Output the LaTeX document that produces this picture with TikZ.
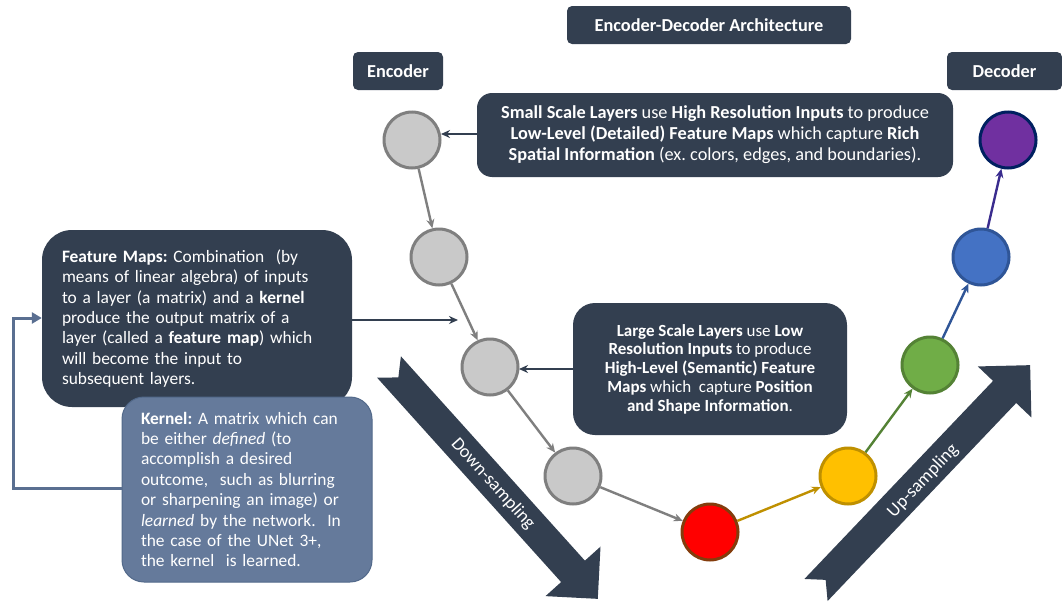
\documentclass[tikz,border=0pt]{standalone}
\usepackage{fontspec}
\setmainfont{Carlito}
\frenchspacing
\usetikzlibrary{arrows.meta,calc}
\definecolor{dk}{HTML}{333F50}
\definecolor{kfill}{HTML}{657A9B}
\definecolor{kline}{HTML}{52698A}
\definecolor{loopc}{HTML}{5A6F91}
\definecolor{gfill}{HTML}{C9C9C9}
\definecolor{gline}{HTML}{7F7F7F}
\definecolor{rline}{HTML}{843C0C}
\definecolor{yfill}{HTML}{FFC000}
\definecolor{yline}{HTML}{BF9000}
\definecolor{grfill}{HTML}{70AD47}
\definecolor{grline}{HTML}{548235}
\definecolor{bfill}{HTML}{4472C4}
\definecolor{bline}{HTML}{2F5597}
\definecolor{pfill}{HTML}{7030A0}
\definecolor{pline}{HTML}{002060}
\definecolor{parrow}{HTML}{3A2C8E}
\tikzset{
  darkbox/.style={fill=dk, draw=none, text=white, inner sep=0pt, align=center},
  txt/.style={font=\fontsize{17.4}{20.4}\selectfont},
  layer/.style={circle, minimum size=56pt, inner sep=0pt, line width=3pt},
  conn/.style={line width=2.4pt, -{Stealth[length=9pt,width=8pt]}},
  looparrow/.style={draw=loopc, line width=3pt, -{Triangle[length=10pt,width=11pt]}},
}
\begin{document}
\begin{tikzpicture}[x=1pt,y=-1pt]
\useasboundingbox (0,0) rectangle (1062,605);
\fill[white] (0,0) rectangle (1062,605);

% big arrows
\begin{scope}[shift={(389,367)}, rotate=-48]
  \fill[dk] (0,-16) -- (275,-16) -- (275,-37) -- (312,0) -- (275,37) -- (275,16) -- (0,16) -- (14,0) -- cycle;
\end{scope}
\node[text=white, font=\fontsize{18.3}{20}\selectfont, rotate=-48] (down) at (493,484) {Down-sampling};
\begin{scope}[shift={(816,590)}, rotate=46.4]
  \fill[dk] (0,-16) -- (273.5,-16) -- (273.5,-37) -- (310.5,0) -- (273.5,37) -- (273.5,16) -- (0,16) -- (14,0) -- cycle;
\end{scope}
\node[text=white, font=\fontsize{18.3}{20}\selectfont, rotate=46.4] (up) at (923,481) {Up-sampling};

% header boxes
\node[darkbox, rounded corners=5pt, minimum width=284pt, minimum height=38pt, font=\fontsize{18.3}{20}\selectfont\bfseries] (title) at (709,25) {Encoder-Decoder Architecture};
\node[darkbox, rounded corners=5pt, minimum width=90pt, minimum height=38pt, font=\fontsize{18.3}{20}\selectfont\bfseries] (enc) at (398,71) {Encoder};
\node[darkbox, rounded corners=5pt, minimum width=115pt, minimum height=38pt, font=\fontsize{18.3}{20}\selectfont\bfseries] (dec) at (1004.5,71) {Decoder};

% explanation boxes
\node[darkbox, rounded corners=15pt, minimum width=476pt, minimum height=84pt, font=\fontsize{18.3}{21}\selectfont] (small) at (715,135)
 {\textbf{Small Scale Layers} use \textbf{High Resolution Inputs} to produce\\
  \textbf{Low-Level (Detailed) Feature Maps} which capture \textbf{Rich}\\
  \textbf{Spatial Information} (ex. colors, edges, and boundaries).};

\node[darkbox, rounded corners=22pt, minimum width=274pt, minimum height=132pt, font=\fontsize{17}{18.7}\selectfont] (large) at (710,369)
 {\textbf{Large Scale Layers} use \textbf{Low}\\
  \textbf{Resolution Inputs} to produce\\
  \textbf{High-Level (Semantic) Feature}\\
  \textbf{Maps} which \ capture \textbf{Position}\\
  \textbf{and Shape Information}.};

\node[darkbox, rounded corners=30pt, minimum width=310pt, minimum height=177pt, txt, align=left, text width=270pt] (fm) at (197,318.5)
 {\textbf{Feature Maps:} Combination \ (by\\
  means of linear algebra) of inputs\\
  to a layer (a matrix) and a \textbf{kernel}\\
  produce the output matrix of a\\
  layer (called a \textbf{feature map}) which\\
  will become the input to\\
  subsequent layers.};

\node[fill=kfill, draw=kline, line width=1pt, text=white, rounded corners=22pt, minimum width=250pt, minimum height=185pt, inner sep=0pt, txt, align=left, text width=212pt] (kern) at (247,489.5)
 {\textbf{Kernel:} A matrix which can\\
  be either \textit{defined} (to\\
  accomplish a desired\\
  outcome, \ such as blurring\\
  or sharpening an image) or\\
  \textit{learned} by the network. \ In\\
  the case of the UNet 3+,\\
  the kernel \ is learned.};

% layers
\node[layer, fill=gfill, draw=gline] (c1) at (412,140) {};
\node[layer, fill=gfill, draw=gline] (c2) at (439,257) {};
\node[layer, fill=gfill, draw=gline] (c3) at (490,367) {};
\node[layer, fill=gfill, draw=gline] (c4) at (573,476) {};
\node[layer, fill=red, draw=rline] (c5) at (710,532) {};
\node[layer, fill=yfill, draw=yline] (c6) at (848,476) {};
\node[layer, fill=grfill, draw=grline] (c7) at (930,365) {};
\node[layer, fill=bfill, draw=bline] (c8) at (981,257) {};
\node[layer, fill=pfill, draw=pline] (c9) at (1008,140) {};

% connectors between layers
\draw[conn, draw=gline, fill=gline] (c1) -- (c2);
\draw[conn, draw=gline, fill=gline] (c2) -- (c3);
\draw[conn, draw=gline, fill=gline] (c3) -- (c4);
\draw[conn, draw=gline, fill=gline] (c4) -- (c5);
\draw[conn, draw=yline, fill=yline] (c5) -- (c6);
\draw[conn, draw=grline, fill=grline] (c6) -- (c7);
\draw[conn, draw=bline, fill=bline] (c7) -- (c8);
\draw[conn, draw=parrow, fill=parrow] (c8) -- (c9);

% box pointers
\coordinate (sp) at (441,134);
\draw[conn, draw=dk, line width=2.2pt] (small.west |- sp) -- (sp);
\coordinate (lp) at (519,369);
\draw[conn, draw=dk, line width=2.2pt] (large.west |- lp) -- (lp);
\coordinate (fp) at (458,320);
\draw[conn, draw=dk, line width=2.2pt] (fm.east |- fp) -- (fp);

% kernel loop
\coordinate (kl) at (13,488);
\coordinate (fl) at (13,318);
\draw[looparrow] (kern.west |- kl) -- (kl) -- (fl) -- (fm.west |- fl);
\end{tikzpicture}
\end{document}
